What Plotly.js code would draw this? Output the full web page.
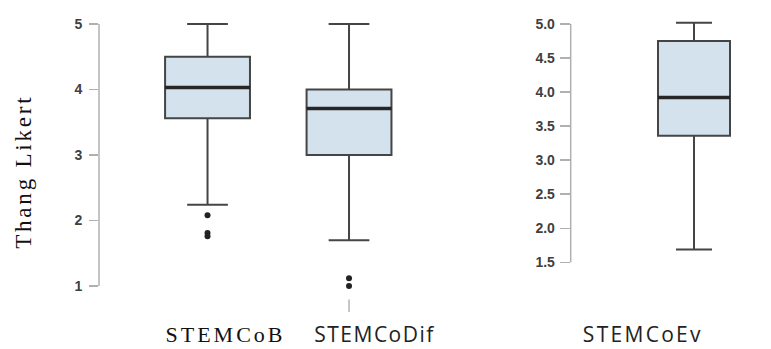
<!DOCTYPE html>
<html>
<head>
<meta charset="utf-8">
<script src="https://cdn.plot.ly/plotly-3.0.1.min.js"></script>
<style>
html,body{margin:0;padding:0;background:#fff;}
#chart{width:771px;height:349px;}
</style>
</head>
<body>
<div id="chart"></div>
<script>
// ---- data ----
const leftCategories = ["STEMCoB", "STEMCoDif"];
const leftQ1 = [3.56, 3.0];
const leftMedian = [4.03, 3.71];
const leftQ3 = [4.5, 4.0];
const leftLower = [2.24, 1.70];
const leftUpper = [5.0, 5.0];
const leftOutliersB = [2.08, 1.81, 1.76];
const leftOutliersDif = [1.12, 1.0];
const leftFaintDif = [0.70];
const leftTicks = [1, 2, 3, 4, 5];

const rightCategories = ["STEMCoEv"];
const rightQ1 = [3.36];
const rightMedian = [3.92];
const rightQ3 = [4.75];
const rightLower = [1.69];
const rightUpper = [5.02];
const rightTicks = [1.5, 2.0, 2.5, 3.0, 3.5, 4.0, 4.5, 5.0];

const yTitle = "Thang Likert";

// ---- styling ----
const fill = "#d3e2ec";
const boxLine = "#454545";
const axisGrey = "#b0b0b0";
const halfW = 0.3;

const traces = [];
function addBoxes(cats, q1, med, q3, lo, hi, xa, ya, cap) {
  const xs = cats.map((c, i) => i);
  traces.push({
    type: "box", x: xs, q1: q1, median: med, q3: q3,
    lowerfence: lo, upperfence: hi, boxpoints: false,
    width: 2 * halfW, whiskerwidth: cap,
    fillcolor: fill, line: {color: boxLine, width: 2},
    xaxis: xa, yaxis: ya, hoverinfo: "skip", showlegend: false
  });
  med.forEach((m, i) => {
    traces.push({
      type: "scatter", mode: "lines",
      x: [i - halfW, i + halfW], y: [m, m],
      line: {color: "#262626", width: 3.5},
      xaxis: xa, yaxis: ya, hoverinfo: "skip", showlegend: false
    });
  });
}
addBoxes(leftCategories, leftQ1, leftMedian, leftQ3, leftLower, leftUpper, "x", "y", 0.48);
addBoxes(rightCategories, rightQ1, rightMedian, rightQ3, rightLower, rightUpper, "x2", "y2", 0.5);

traces.push({
  type: "scatter", mode: "markers",
  x: leftOutliersB.map(() => 0), y: leftOutliersB,
  marker: {color: "#222", size: 6}, cliponaxis: false,
  xaxis: "x", yaxis: "y", hoverinfo: "skip", showlegend: false
});
traces.push({
  type: "scatter", mode: "markers",
  x: leftOutliersDif.map(() => 1), y: leftOutliersDif,
  marker: {color: "#222", size: 6}, cliponaxis: false,
  xaxis: "x", yaxis: "y", hoverinfo: "skip", showlegend: false
});
traces.push({
  type: "scatter", mode: "markers",
  x: leftFaintDif.map(() => 1), y: leftFaintDif,
  marker: {color: "#b4b4b4", size: 9, symbol: "line-ns-open", line: {width: 1.5, color: "#b4b4b4"}},
  cliponaxis: false,
  xaxis: "x", yaxis: "y", hoverinfo: "skip", showlegend: false
});

const tickFont = {family: "Liberation Sans, Arial, sans-serif", size: 14, color: "#404040", weight: "bold"};

const layout = {
  width: 771, height: 349,
  margin: {l: 0, r: 0, t: 0, b: 0},
  paper_bgcolor: "#fff", plot_bgcolor: "#fff",
  showlegend: false,
  xaxis: {domain: [99/771, 440/771], range: [-0.767, 1.643], visible: false, fixedrange: true},
  xaxis2: {domain: [570.7/771, 760/771], range: [-1.0275, 0.55], visible: false, fixedrange: true},
  yaxis: {
    domain: [39/349, 334/349], range: [0.634, 5.137], anchor: "x",
    tickvals: leftTicks, ticktext: leftTicks.map(String),
    showgrid: false, zeroline: false, showline: false,
    ticks: "outside", ticklen: 9, tickwidth: 1.5, tickcolor: axisGrey,
    tickfont: tickFont, ticklabelstandoff: 4
  },
  yaxis2: {
    domain: [39/349, 334/349], range: [0.80, 5.132], anchor: "x2",
    tickvals: rightTicks, ticktext: rightTicks.map(v => v.toFixed(1)),
    showgrid: false, zeroline: false, showline: false,
    ticks: "outside", ticklen: 10, tickwidth: 1.5, tickcolor: axisGrey,
    tickfont: tickFont, ticklabelstandoff: 2
  },
  shapes: [
    {type: "line", xref: "x domain", yref: "y", x0: 0, x1: 0,
     y0: Math.min(...leftTicks), y1: Math.max(...leftTicks),
     line: {color: axisGrey, width: 1.5}},
    {type: "line", xref: "x2 domain", yref: "y2", x0: 0, x1: 0,
     y0: Math.min(...rightTicks), y1: Math.max(...rightTicks),
     line: {color: axisGrey, width: 1.5}}
  ],
  annotations: [
    {text: yTitle, xref: "paper", yref: "paper", x: 23/771, y: (349-172)/349,
     textangle: -90, showarrow: false, xanchor: "center", yanchor: "middle",
     font: {family: "Liberation Serif, Times New Roman, serif", size: 23, color: "#111"}},
    {text: leftCategories[0], xref: "paper", yref: "paper", x: 225/771, y: (349-334)/349,
     showarrow: false, xanchor: "center", yanchor: "middle",
     font: {family: "Liberation Serif, Times New Roman, serif", size: 22, color: "#111"}},
    {text: leftCategories[1], xref: "paper", yref: "paper", x: 375/771, y: (349-334)/349,
     showarrow: false, xanchor: "center", yanchor: "middle",
     font: {family: "Open Sans, sans-serif", size: 21, color: "#222"}},
    {text: rightCategories[0], xref: "paper", yref: "paper", x: 643/771, y: (349-334)/349,
     showarrow: false, xanchor: "center", yanchor: "middle",
     font: {family: "Open Sans, sans-serif", size: 21, color: "#222"}}
  ]
};

Plotly.newPlot("chart", traces, layout, {staticPlot: true}).then(() => {
  const spacing = [2.8, 3, 1.5, 2.3];
  document.querySelectorAll("#chart .annotation-text").forEach((el, i) => {
    if (spacing[i] !== undefined) el.style.letterSpacing = spacing[i] + "px";
  });
});
</script>
</body>
</html>
